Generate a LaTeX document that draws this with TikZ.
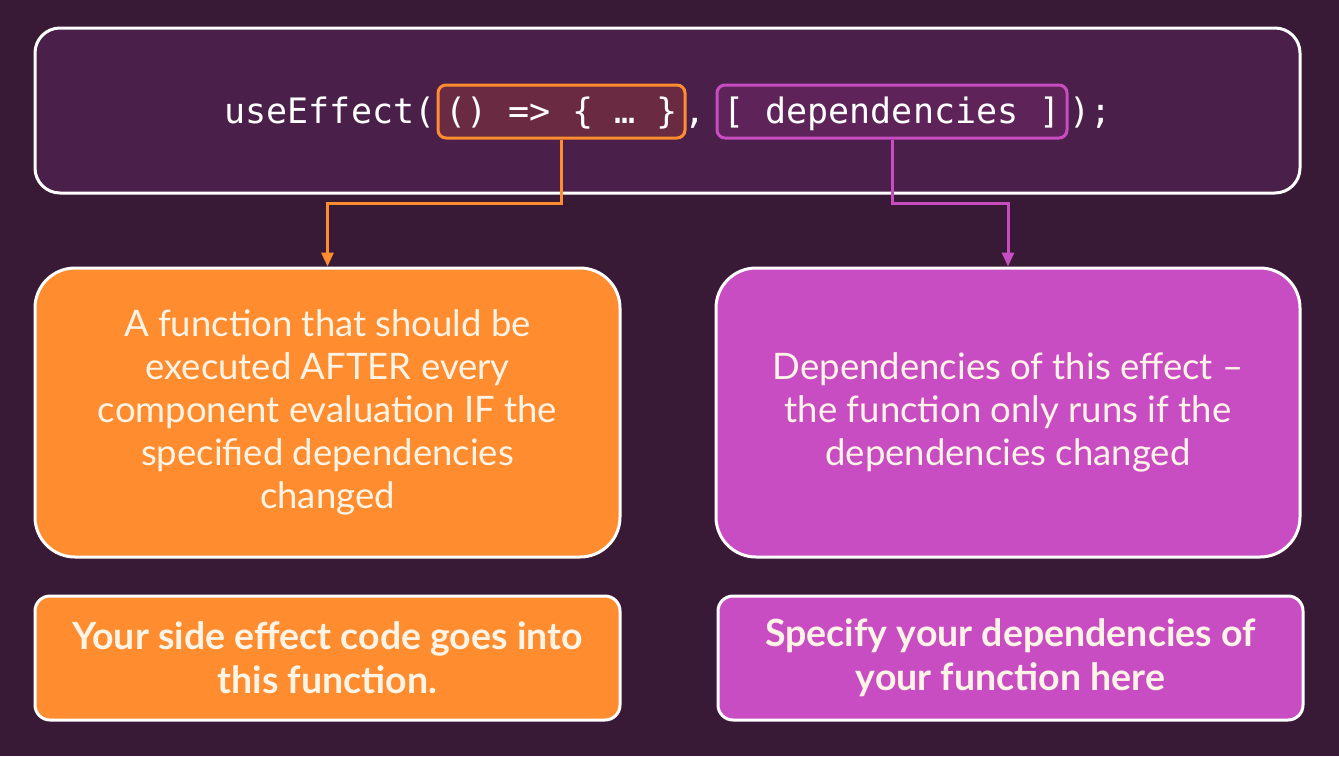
\documentclass[tikz,border=0pt]{standalone}
\usepackage{fontspec}
\setmainfont{Lato}
\newfontfamily\codefont{DejaVu Sans Mono}
\usetikzlibrary{arrows.meta}
\definecolor{bg}{HTML}{381A36}
\definecolor{topfill}{HTML}{4A1F4A}
\definecolor{orng}{HTML}{FF8C2F}
\definecolor{purp}{HTML}{C94DC2}
\definecolor{fnfill}{HTML}{6A2B42}
\definecolor{depfill}{HTML}{5E2459}
\definecolor{cream}{HTML}{FFF4E6}
\tikzset{
  panel/.style={draw=white, line width=3pt, rounded corners=#1},
  codebox/.style={line width=3pt, rounded corners=8pt, minimum height=53pt, inner sep=0pt},
  codetext/.style={font=\codefont\fontsize{35}{40}\selectfont, text=white, inner sep=0pt},
  bodytext/.style={font=\fontsize{36.5}{43}\selectfont, text=cream, align=center, inner sep=0pt},
  boldtext/.style={font=\bfseries\fontsize{37.5}{44}\selectfont, text=cream, align=center, inner sep=0pt},
  conn/.style={line width=3pt, -{Triangle[width=12pt,length=14pt]}},
}
\begin{document}
\begin{tikzpicture}[x=1pt,y=-1pt]
\fill[bg] (0,0) rectangle (1339,756);
\useasboundingbox (0,0) rectangle (1339,756);

% top panel
\node[panel=25pt, fill=topfill, minimum width=1265pt, minimum height=165pt] (top) at (667.5,110.5) {};

% code boxes
\node[codebox, draw=orng, fill=fnfill, minimum width=247pt] (fn) at (561.5,111.5) {};
\node[codebox, draw=purp, fill=depfill, minimum width=350pt] (dep) at (892,111.5) {};

\node[codetext, anchor=base] (fntxt) at (561.5,123) {() => \{ … \}};
\node[codetext, anchor=base] (deptxt) at (892,123) {[ dependencies ]};
\node[codetext, anchor=base east] (pre) at ([xshift=-1pt]fn.west |- fntxt.base) {useEffect(};
\node[codetext, anchor=base] (comma) at ([xshift=9pt]fn.east |- fntxt.base) {,};
\node[codetext, anchor=base west] (post) at ([xshift=1pt]dep.east |- deptxt.base) {);};

% big boxes
\node[panel=40pt, fill=orng, minimum width=585pt, minimum height=289pt] (fnbig) at (327.5,412.5) {};
\node[panel=40pt, fill=purp, minimum width=584pt, minimum height=289pt] (depbig) at (1008,412.5) {};

\node[bodytext] (fnbigtxt) at (fnbig.center) {A function that should be\\executed AFTER every\\component evaluation IF the\\specified dependencies\\changed};
\node[bodytext] (depbigtxt) at (depbig.center) {Dependencies of this effect –\\the function only runs if the\\dependencies changed};

% small boxes
\node[panel=15pt, fill=orng, minimum width=585pt, minimum height=124pt] (fnsmall) at (327.5,658) {};
\node[panel=15pt, fill=purp, minimum width=585pt, minimum height=124pt] (depsmall) at (1010.5,658) {};

\node[boldtext] (fnsmalltxt) at (fnsmall.center) {Your side effect code goes into\\this function.};
\node[boldtext] (depsmalltxt) at (depsmall.center) {Specify your dependencies of\\your function here};

% connectors
\coordinate (fnbend) at (fn.south |- 0,203);
\coordinate (depbend) at (dep.south |- 0,203);
\draw[conn, draw=orng] (fn.south) -- (fnbend) -| (fnbig.north);
\draw[conn, draw=purp] (dep.south) -- (depbend) -| (depbig.north);
\end{tikzpicture}
\end{document}
